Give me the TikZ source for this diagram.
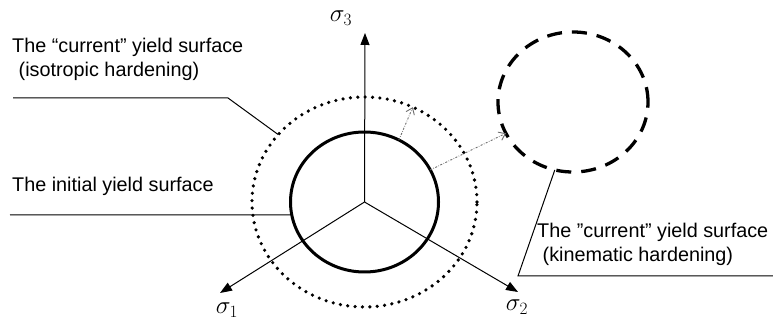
\documentclass[tikz,border=0pt]{standalone}
\usepackage{fontspec}
\setmainfont{Liberation Sans}
\usetikzlibrary{arrows.meta,shapes.geometric}
\begin{document}
\begin{tikzpicture}[x=1pt,y=1pt,
  lbl/.style={font=\fontsize{19.8}{23}\selectfont, inner sep=0pt, anchor=base west},
  sig/.style={font=\fontsize{23}{27}\selectfont, inner sep=0pt},
  axis/.style={line width=1pt, -{Triangle[length=12pt,width=9pt]}},
  leader/.style={line width=1pt},
  move/.style={gray!85!black, line width=0.9pt, dash pattern=on 2pt off 1.5pt on 0.6pt off 1.5pt, -{Straight Barb[length=6pt,width=9pt]}},
  surf/.style={ellipse, inner sep=0pt, outer sep=0pt}]
\useasboundingbox (0,0) rectangle (773,320);
\coordinate (O) at (364.5,118);
% yield surfaces
\node[surf, draw, line width=3pt, minimum width=148pt, minimum height=140pt] (init) at (O) {};
\node[surf, draw, line width=3.6pt, line cap=round, dash pattern=on 0pt off 7.4pt, minimum width=225pt, minimum height=210pt] (iso) at (O) {};
\node[surf, draw, line width=3.3pt, dash pattern=on 15pt off 10pt, minimum width=150pt, minimum height=140pt] (kin) at (573,218) {};
% axes
\coordinate (t3) at (365,287);
\coordinate (t1) at (220,27);
\coordinate (t2) at (518,28);
\draw[axis] (O) -- (t3);
\draw[axis] (O) -- (t1);
\draw[axis] (O) -- (t2);
\node[sig] (s3) at (341,302) {$\sigma_3$};
\node[sig] (s1) at (227,10) {$\sigma_1$};
\node[sig] (s2) at (517,13) {$\sigma_2$};
% movement arrows
\draw[move] (init.61) -- (iso.63);
\draw[move] (init.26) -- (kin.205);
% labels
\node[lbl] (l1a) at (12,267) {The “current” yield surface};
\node[lbl] (l1b) at (13,243) {\ (isotropic hardening)};
\node[lbl] (l2) at (12,128) {The initial yield surface};
\node[lbl] (l3a) at (537,82) {The "current" yield surface};
\node[lbl] (l3b) at (537,58) {\ (kinematic hardening)};
% leaders
\coordinate (p1a) at (13,222);
\coordinate (p1b) at (228,222);
\coordinate (p2a) at (10,105);
\coordinate (p3a) at (773,44);
\coordinate (p3b) at (518,44);
\draw[leader] (p1a) -- (p1b) -- (iso.142);
\draw[leader] (p2a) -- (init.190);
\draw[leader] (p3a) -- (p3b) -- (kin.255);
\end{tikzpicture}
\end{document}
